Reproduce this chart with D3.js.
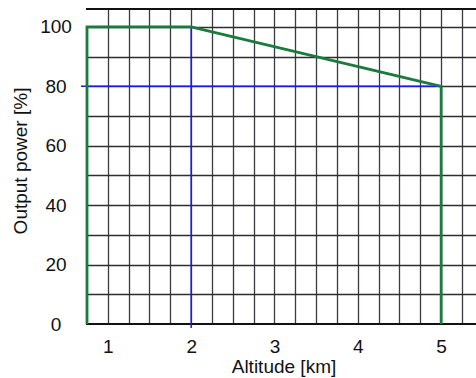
<!DOCTYPE html>
<html>
<head>
<meta charset="utf-8">
<script src="https://cdn.jsdelivr.net/npm/d3@7"></script>
<style>
  html, body { margin: 0; padding: 0; background: #fff; }
  svg { display: block; font-family: "Liberation Sans", Arial, sans-serif; }
</style>
</head>
<body>
<div id="chart"></div>
<script>
// derating curve (altitude in km, output power in %)
const altitudeKm = [0.75, 0.75, 2, 5, 5];
const outputPct = [0, 100, 100, 80, 0];

// blue guide lines
const guideAltitude = 2;
const guidePower = 80;

const xTicks = [1, 2, 3, 4, 5];
const yTicks = [0, 20, 40, 60, 80, 100];
const xGridStep = 0.25;
const yGridStep = 10;

const W = 476, H = 378;
const margin = { top: 9, left: 87, bottom: 54 };

const x = d3.scaleLinear().domain([0.75, 5.5]).range([margin.left, margin.left + 4.75 * 83.33]);
const y = d3.scaleLinear().domain([0, 106]).range([H - margin.bottom, margin.top]);

const svg = d3.select("#chart").append("svg")
  .attr("width", W)
  .attr("height", H);

// grid
const xGrid = d3.range(1, 5.5 + 1e-9, xGridStep);
const yGrid = d3.range(yGridStep, 106, yGridStep);

svg.append("g").selectAll("line").data(xGrid).join("line")
  .attr("x1", d => Math.round(x(d)) + 0.5).attr("x2", d => Math.round(x(d)) + 0.5)
  .attr("y1", y(106)).attr("y2", y(0))
  .attr("stroke", "#3b3b48").attr("stroke-width", 1.3);

svg.append("g").selectAll("line").data(yGrid).join("line")
  .attr("x1", x(0.75)).attr("x2", W)
  .attr("y1", d => Math.round(y(d)) + 0.5).attr("y2", d => Math.round(y(d)) + 0.5)
  .attr("stroke", "#2e2e2e").attr("stroke-width", 1.3);

// frame (top and bottom)
svg.append("line")
  .attr("x1", x(0.75) - 1).attr("x2", W)
  .attr("y1", y(106)).attr("y2", y(106))
  .attr("stroke", "#111").attr("stroke-width", 2);
svg.append("line")
  .attr("x1", x(0.75) - 1).attr("x2", W)
  .attr("y1", y(0)).attr("y2", y(0))
  .attr("stroke", "#111").attr("stroke-width", 2);

// blue guides
svg.append("line")
  .attr("x1", x(0.75) - 6).attr("x2", x(5))
  .attr("y1", y(guidePower)).attr("y2", y(guidePower))
  .attr("stroke", "#1a1aee").attr("stroke-width", 1.5);
svg.append("line")
  .attr("x1", x(guideAltitude)).attr("x2", x(guideAltitude))
  .attr("y1", y(100)).attr("y2", y(0) + 4)
  .attr("stroke", "#1a1aee").attr("stroke-width", 1.5);

// curve
const pts = altitudeKm.map((a, i) => [a, outputPct[i]]);
svg.append("path")
  .datum(pts)
  .attr("fill", "none")
  .attr("stroke", "#1b7a3d")
  .attr("stroke-width", 2.8)
  .attr("stroke-linejoin", "miter")
  .attr("d", d3.line().x(d => x(d[0])).y(d => y(d[1])));

// axes labels via d3 axes
const xAxis = svg.append("g")
  .attr("transform", `translate(0,${y(0)})`)
  .call(d3.axisBottom(x).tickValues(xTicks).tickFormat(d3.format("d")).tickSize(0).tickPadding(16));
xAxis.select(".domain").remove();
xAxis.selectAll("text")
  .attr("font-family", "Liberation Sans, Arial, sans-serif")
  .attr("font-size", 19).attr("fill", "#111");

const yAxis = svg.append("g")
  .attr("transform", `translate(56,0)`)
  .call(d3.axisLeft(y).tickValues(yTicks).tickFormat(d3.format("d")).tickSize(0).tickPadding(0));
yAxis.select(".domain").remove();
yAxis.selectAll("text")
  .attr("text-anchor", "middle")
  .attr("font-family", "Liberation Sans, Arial, sans-serif")
  .attr("font-size", 19).attr("fill", "#111");

// titles
svg.append("text")
  .attr("x", 284).attr("y", 373)
  .attr("text-anchor", "middle")
  .attr("font-size", 19).attr("fill", "#111")
  .text("Altitude [km]");

svg.append("text")
  .attr("transform", "translate(27,161) rotate(-90)")
  .attr("text-anchor", "middle")
  .attr("font-size", 19).attr("fill", "#111")
  .text("Output power [%]");
</script>
</body>
</html>
